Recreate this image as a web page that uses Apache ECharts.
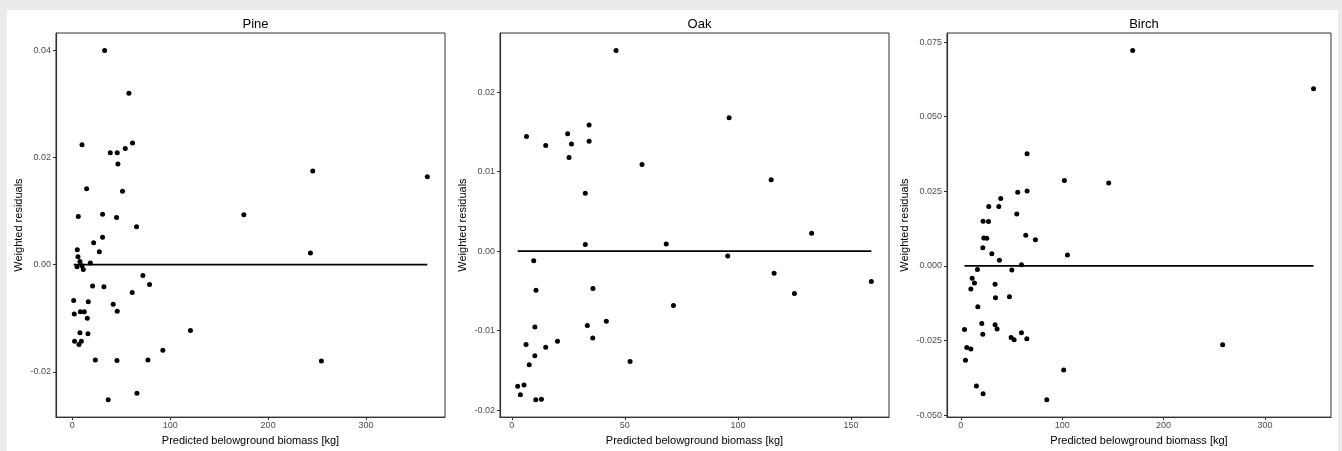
<!DOCTYPE html>
<html>
<head>
<meta charset="utf-8">
<script src="https://cdn.jsdelivr.net/npm/echarts@6/dist/echarts.min.js"></script>
<style>
  html, body { margin: 0; padding: 0; background: #ebebeb; }
  #chart { width: 1342px; height: 451px; }
</style>
</head>
<body>
<div id="chart"></div>
<script>
// Residual diagnostics per species: predicted belowground biomass vs weighted residuals
const panelTitles = ['Pine', 'Oak', 'Birch'];
const xAxisTitle = 'Predicted belowground biomass [kg]';
const yAxisTitle = 'Weighted residuals';

const pineX = [33.0, 57.8, 9.9, 61.5, 38.8, 45.9, 54.1, 46.6, 245.6, 362.6, 14.6, 51.3, 6.1, 30.9, 45.2, 175.2, 65.6,
  30.9, 21.8, 5.1, 27.6, 243.2, 5.8, 7.8, 18.4, 4.8, 9.9, 11.2, 72.1, 78.9, 20.7, 32.3, 61.2, 1.4, 16.3, 41.8,
  2.0, 8.2, 12.2, 45.9, 15.3, 7.8, 16.0, 120.7, 2.3, 9.2, 6.8, 92.5, 23.5, 45.6, 77.2, 254.4, 66.0, 36.7];
const pineY = [0.0400, 0.0320, 0.0224, 0.0227, 0.0209, 0.0209, 0.0217, 0.0188, 0.0175, 0.0164, 0.0142, 0.0137, 0.0090, 0.0094, 0.0088, 0.0093, 0.0071,
  0.0051, 0.0041, 0.0028, 0.0024, 0.0022, 0.0015, 0.0006, 0.0003, -0.0004, -0.0002, -0.0009, -0.0020, -0.0037, -0.0040, -0.0041, -0.0052, -0.0067, -0.0069, -0.0074,
  -0.0092, -0.0088, -0.0088, -0.0087, -0.0100, -0.0127, -0.0129, -0.0123, -0.0143, -0.0143, -0.0149, -0.0160, -0.0178, -0.0179, -0.0178, -0.0180, -0.0240, -0.0252];

const oakX = [46.1, 6.5, 15.0, 24.7, 26.4, 25.3, 34.2, 34.2, 57.6, 96.1, 114.7, 32.5,
  32.5, 68.3, 132.6, 95.5, 9.7, 116.0, 159.0, 10.7, 35.9, 125.0, 71.5, 41.8, 33.4, 10.2, 35.8,
  6.3, 15.0, 20.2, 10.2, 7.7, 52.3, 2.6, 5.4, 3.8, 10.6, 13.1];
const oakY = [0.02524, 0.01443, 0.01327, 0.01477, 0.01348, 0.01176, 0.01585, 0.01381, 0.01089, 0.01677, 0.00897, 0.00726,
  0.00083, 0.00088, 0.00225, -0.00063, -0.00121, -0.00280, -0.00384, -0.00492, -0.00471, -0.00534, -0.00684, -0.00884, -0.00935, -0.00955, -0.01093,
  -0.01176, -0.01210, -0.01135, -0.01318, -0.01431, -0.01389, -0.01702, -0.01685, -0.01806, -0.01869, -0.01865];

const birchX = [169.6, 348.0, 65.4, 102.2, 145.9, 56.2, 65.4, 39.4, 27.6, 37.5, 55.2, 22.0, 27.3,
  22.7, 25.6, 64.1, 73.6, 21.7, 30.6, 105.2, 38.1, 59.8, 16.4, 50.3, 11.2, 13.5, 9.9, 33.8, 34.2, 48.0,
  16.8, 3.6, 20.7, 33.8, 35.8, 21.7, 59.8, 49.6, 52.6, 65.1, 258.3, 5.9, 9.9, 4.6, 101.5, 15.4, 22.0, 84.8];
const birchY = [0.0722, 0.0594, 0.0376, 0.0286, 0.0278, 0.0247, 0.0251, 0.0226, 0.0199, 0.0199, 0.0174, 0.0150, 0.0149,
  0.0094, 0.0093, 0.0103, 0.0088, 0.0061, 0.0041, 0.0037, 0.0019, 0.0004, -0.0012, -0.0014, -0.0041, -0.0057, -0.0077, -0.0061, -0.0107, -0.0103,
  -0.0137, -0.0213, -0.0193, -0.0197, -0.0211, -0.0229, -0.0224, -0.0240, -0.0247, -0.0244, -0.0264, -0.0273, -0.0278, -0.0316, -0.0349, -0.0402, -0.0428, -0.0448];

// Tick labels for each panel
const pineXTicks = ['0', '100', '200', '300'];
const pineYTicks = ['-0.02', '0.00', '0.02', '0.04'];
const oakXTicks = ['0', '50', '100', '150'];
const oakYTicks = ['-0.02', '-0.01', '0.00', '0.01', '0.02'];
const birchXTicks = ['0', '100', '200', '300'];
const birchYTicks = ['-0.050', '-0.025', '0.000', '0.025', '0.050', '0.075'];

const panels = [
  { title: panelTitles[0], xs: pineX, ys: pineY, xt: pineXTicks, yt: pineYTicks,
    grid: { left: 56, top: 33, width: 389, height: 386 }, yNameGap: 32 },
  { title: panelTitles[1], xs: oakX, ys: oakY, xt: oakXTicks, yt: oakYTicks,
    grid: { left: 500, top: 33, width: 389, height: 385 }, yNameGap: 32 },
  { title: panelTitles[2], xs: birchX, ys: birchY, xt: birchXTicks, yt: birchYTicks,
    grid: { left: 947, top: 33, width: 384, height: 386 }, yNameGap: 37 }
];

// 5% padding on each side of the data range
function paddedRange(vals) {
  const lo = Math.min(...vals), hi = Math.max(...vals);
  const pad = (hi - lo) * 0.05;
  return [lo - pad, hi + pad];
}

function labelFor(ticks) {
  const nums = ticks.map(Number);
  return function (v) {
    for (let i = 0; i < nums.length; i++) {
      if (Math.abs(nums[i] - v) < 1e-9) return ticks[i];
    }
    return '';
  };
}

const FONT = 'Liberation Sans, Arial, sans-serif';
const grids = [], xAxes = [], yAxes = [], series = [], titles = [];

panels.forEach(function (p, i) {
  grids.push(Object.assign({ show: true, borderColor: '#333', borderWidth: 1, backgroundColor: '#fff' }, p.grid));
  titles.push({
    text: p.title,
    left: p.grid.left + p.grid.width / 2,
    top: 13,
    textAlign: 'center',
    textStyle: { fontFamily: FONT, fontSize: 13, fontWeight: 'normal', color: '#000' }
  });
  const xr = paddedRange(p.xs), yr = paddedRange(p.ys);
  const xVals = p.xt.map(Number), yVals = p.yt.map(Number);
  xAxes.push({
    type: 'value', gridIndex: i, min: xr[0], max: xr[1],
    name: xAxisTitle, nameLocation: 'middle', nameGap: 16,
    nameTextStyle: { fontFamily: FONT, fontSize: 11, color: '#000' },
    axisLine: { show: true, onZero: false, lineStyle: { color: '#333', width: 1.2 } },
    axisTick: { show: true, length: 3, customValues: xVals, lineStyle: { color: '#333' } },
    axisLabel: { customValues: xVals, formatter: labelFor(p.xt), margin: 4,
      fontFamily: FONT, fontSize: 9, color: '#4d4d4d' },
    splitLine: { show: false }
  });
  yAxes.push({
    type: 'value', gridIndex: i, min: yr[0], max: yr[1],
    name: yAxisTitle, nameLocation: 'middle', nameGap: p.yNameGap,
    nameTextStyle: { fontFamily: FONT, fontSize: 11, color: '#000' },
    axisLine: { show: true, onZero: false, lineStyle: { color: '#333', width: 1.2 } },
    axisTick: { show: true, length: 3, customValues: yVals, lineStyle: { color: '#333' } },
    axisLabel: { customValues: yVals, formatter: labelFor(p.yt), margin: 5,
      fontFamily: FONT, fontSize: 9, color: '#4d4d4d' },
    splitLine: { show: false }
  });
  // zero reference line across the span of predictions
  series.push({
    type: 'line', xAxisIndex: i, yAxisIndex: i,
    data: [[Math.min(...p.xs), 0], [Math.max(...p.xs), 0]],
    symbol: 'none', silent: true,
    lineStyle: { color: '#000', width: 1.8 }, z: 2
  });
  series.push({
    type: 'scatter', xAxisIndex: i, yAxisIndex: i,
    data: p.xs.map(function (x, k) { return [x, p.ys[k]]; }),
    symbolSize: 5, itemStyle: { color: '#000', opacity: 1 }, z: 3
  });
});

const chart = echarts.init(document.getElementById('chart'), null, { renderer: 'canvas' });
chart.setOption({
  animation: false,
  backgroundColor: '#ebebeb',
  graphic: [{ type: 'rect', shape: { x: 7, y: 10, width: 1331, height: 441 }, style: { fill: '#fff' }, z: -10, silent: true }],
  title: titles,
  grid: grids,
  xAxis: xAxes,
  yAxis: yAxes,
  series: series
});
</script>
</body>
</html>
